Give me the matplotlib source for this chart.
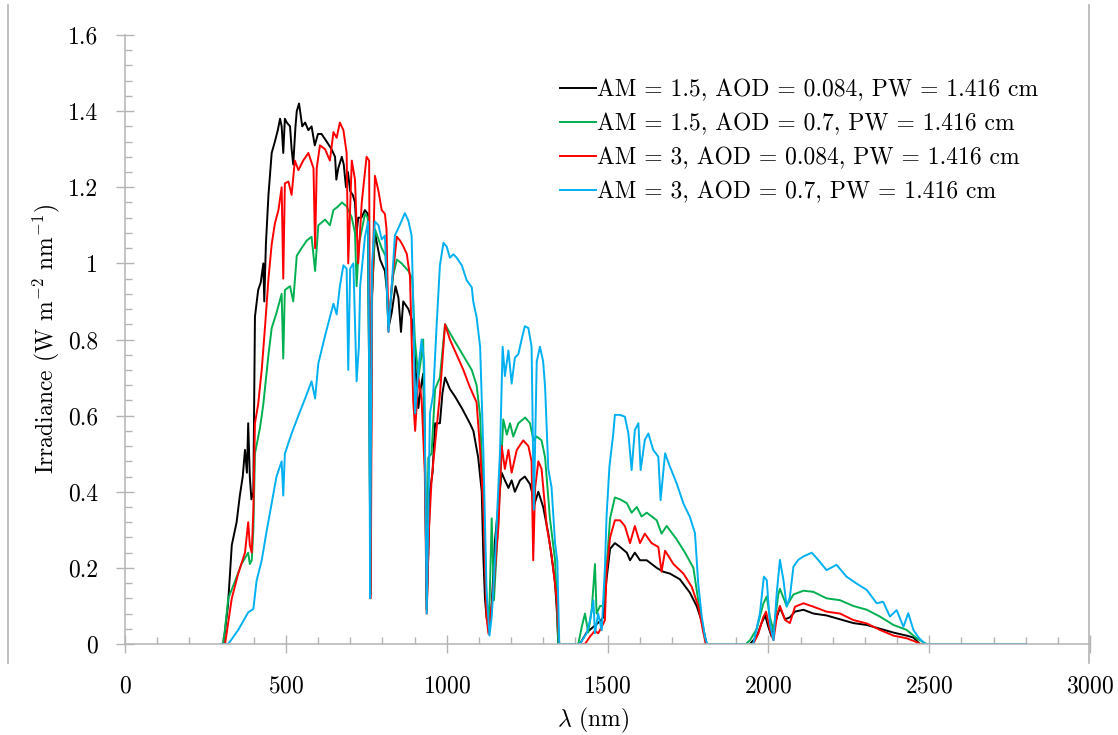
import matplotlib

matplotlib.use("Agg")
import matplotlib.pyplot as plt
from matplotlib.lines import Line2D
from matplotlib.ticker import FuncFormatter, MultipleLocator

# spectral irradiance, W m-2 nm-1
wl_am15_aod0084 = [
    300, 306, 320, 332, 347, 357, 366, 373, 379, 383,
    388, 393, 399, 404, 414, 422, 430, 433, 438, 446,
    456, 466, 475, 482, 487, 492, 497, 503, 513, 518,
    523, 530, 534, 541, 551, 560, 570, 580, 590, 600,
    611, 627, 642, 653, 657, 663, 674, 680, 687, 693,
    700, 708, 715, 720, 725, 735, 746, 755, 760, 763,
    767, 777, 793, 808, 814, 819, 829, 841, 850, 858,
    865, 881, 893, 901, 907, 912, 919, 927, 932, 938,
    943, 948, 956, 964, 979, 987, 995, 1010, 1026, 1047,
    1072, 1083, 1098, 1109, 1114, 1119, 1124, 1130, 1140, 1150,
    1160, 1171, 1181, 1192, 1202, 1212, 1228, 1243, 1259, 1265,
    1270, 1285, 1300, 1316, 1331, 1337, 1343, 1347, 1414, 1435,
    1456, 1477, 1487, 1497, 1508, 1523, 1539, 1560, 1570, 1585,
    1601, 1622, 1653, 1673, 1694, 1725, 1756, 1777, 1793, 1803,
    1808, 1943, 1964, 1979, 1990, 2000, 2010, 2026, 2036, 2052,
    2067, 2083, 2109, 2140, 2181, 2223, 2264, 2306, 2347, 2389,
    2430, 2451, 2471, 2800,
]
irr_am15_aod0084 = [
    0.0, 0.0, 0.10, 0.26, 0.32, 0.39, 0.44, 0.51, 0.45, 0.58,
    0.44, 0.38, 0.40, 0.86, 0.93, 0.95, 1.00, 0.90, 1.05, 1.18,
    1.29, 1.32, 1.35, 1.38, 1.36, 1.29, 1.38, 1.37, 1.36, 1.30,
    1.26, 1.36, 1.40, 1.42, 1.36, 1.37, 1.35, 1.36, 1.31, 1.34,
    1.34, 1.32, 1.30, 1.28, 1.22, 1.25, 1.28, 1.26, 1.20, 1.24,
    1.19, 1.18, 1.16, 1.08, 1.12, 1.12, 1.14, 1.13, 0.60, 0.15,
    0.90, 1.08, 1.01, 0.98, 0.93, 0.83, 0.87, 0.94, 0.91, 0.82,
    0.90, 0.88, 0.85, 0.76, 0.67, 0.62, 0.67, 0.71, 0.55, 0.09,
    0.25, 0.40, 0.45, 0.58, 0.58, 0.66, 0.70, 0.67, 0.65, 0.62,
    0.58, 0.56, 0.49, 0.40, 0.23, 0.12, 0.07, 0.045, 0.10, 0.27,
    0.36, 0.45, 0.43, 0.41, 0.43, 0.40, 0.43, 0.44, 0.42, 0.40,
    0.36, 0.40, 0.36, 0.29, 0.20, 0.16, 0.08, 0.0, 0.0, 0.03,
    0.045, 0.06, 0.07, 0.17, 0.25, 0.265, 0.255, 0.24, 0.22, 0.24,
    0.22, 0.22, 0.20, 0.19, 0.185, 0.17, 0.135, 0.10, 0.06, 0.02,
    0.0, 0.0, 0.02, 0.055, 0.075, 0.045, 0.02, 0.07, 0.095, 0.065,
    0.07, 0.085, 0.09, 0.08, 0.075, 0.065, 0.055, 0.05, 0.04, 0.03,
    0.022, 0.017, 0.0, 0.0,
]

wl_am15_aod07 = [
    300, 306, 321, 342, 362, 383, 388, 394, 399, 404,
    420, 430, 435, 446, 456, 471, 487, 492, 497, 513,
    523, 534, 549, 565, 580, 591, 601, 622, 637, 648,
    663, 674, 689, 705, 715, 720, 727, 746, 755, 760,
    763, 767, 777, 798, 810, 819, 834, 845, 860, 881,
    893, 901, 912, 922, 927, 932, 938, 943, 953, 964,
    979, 995, 1015, 1036, 1057, 1078, 1093, 1104, 1114, 1124,
    1132, 1140, 1147, 1161, 1176, 1187, 1197, 1207, 1223, 1244,
    1259, 1270, 1280, 1295, 1306, 1321, 1337, 1343, 1347, 1409,
    1420, 1430, 1440, 1451, 1461, 1466, 1477, 1487, 1497, 1508,
    1523, 1539, 1560, 1575, 1591, 1606, 1622, 1653, 1668, 1684,
    1715, 1741, 1767, 1782, 1798, 1808, 1930, 1943, 1964, 1984,
    1995, 2005, 2016, 2031, 2036, 2057, 2078, 2109, 2140, 2181,
    2223, 2264, 2306, 2347, 2389, 2430, 2461, 2492, 2800,
]
irr_am15_aod07 = [
    0.0, 0.0, 0.12, 0.165, 0.21, 0.24, 0.21, 0.22, 0.30, 0.50,
    0.57, 0.63, 0.67, 0.76, 0.83, 0.87, 0.92, 0.75, 0.93, 0.94,
    0.90, 1.02, 1.04, 1.06, 1.07, 0.98, 1.10, 1.115, 1.10, 1.14,
    1.15, 1.16, 1.15, 1.12, 1.08, 0.94, 1.05, 1.13, 1.12, 0.60,
    0.13, 0.90, 1.09, 1.04, 1.02, 0.84, 0.97, 1.01, 1.00, 0.98,
    0.96, 0.80, 0.70, 0.76, 0.80, 0.55, 0.09, 0.49, 0.50, 0.67,
    0.70, 0.84, 0.81, 0.78, 0.75, 0.72, 0.68, 0.60, 0.38, 0.115,
    0.063, 0.33, 0.115, 0.33, 0.59, 0.55, 0.58, 0.545, 0.58, 0.595,
    0.58, 0.535, 0.545, 0.535, 0.49, 0.33, 0.22, 0.10, 0.0, 0.0,
    0.045, 0.08, 0.03, 0.09, 0.21, 0.08, 0.10, 0.10, 0.20, 0.33,
    0.385, 0.38, 0.37, 0.345, 0.36, 0.335, 0.345, 0.325, 0.29, 0.31,
    0.275, 0.24, 0.20, 0.115, 0.035, 0.0, 0.0, 0.01, 0.04, 0.105,
    0.125, 0.07, 0.035, 0.13, 0.145, 0.10, 0.13, 0.14, 0.137, 0.12,
    0.115, 0.10, 0.09, 0.072, 0.05, 0.037, 0.015, 0.0, 0.0,
]

wl_am3_aod0084 = [
    300, 311, 332, 352, 373, 383, 388, 394, 399, 404,
    414, 425, 435, 446, 456, 466, 477, 487, 492, 497,
    508, 518, 528, 539, 554, 570, 586, 591, 596, 606,
    622, 637, 648, 658, 668, 679, 689, 694, 705, 715,
    720, 725, 736, 751, 759, 762, 764, 768, 777, 788,
    798, 808, 813, 819, 829, 845, 855, 865, 876, 886,
    896, 902, 912, 922, 932, 938, 945, 953, 969, 979,
    995, 1010, 1031, 1052, 1072, 1093, 1104, 1114, 1124, 1130,
    1145, 1161, 1171, 1181, 1192, 1202, 1218, 1238, 1254, 1264,
    1269, 1275, 1285, 1295, 1311, 1326, 1342, 1350, 1430, 1446,
    1461, 1471, 1482, 1492, 1497, 1508, 1523, 1539, 1554, 1570,
    1585, 1601, 1616, 1637, 1658, 1668, 1679, 1705, 1736, 1762,
    1782, 1798, 1806, 1953, 1969, 1984, 1993, 2005, 2016, 2028,
    2036, 2052, 2067, 2083, 2109, 2140, 2181, 2223, 2264, 2306,
    2347, 2389, 2430, 2461, 2471, 2800,
]
irr_am3_aod0084 = [
    0.0, 0.0, 0.12, 0.185, 0.24, 0.32, 0.26, 0.24, 0.35, 0.58,
    0.63, 0.72, 0.83, 0.96, 1.05, 1.105, 1.14, 1.20, 0.96, 1.21,
    1.215, 1.18, 1.27, 1.245, 1.27, 1.29, 1.25, 1.04, 1.25, 1.31,
    1.30, 1.27, 1.345, 1.33, 1.37, 1.35, 1.29, 1.00, 1.27, 1.22,
    1.10, 1.00, 1.16, 1.28, 1.27, 0.60, 0.12, 0.90, 1.23, 1.19,
    1.14, 1.13, 1.09, 0.82, 0.94, 1.07, 1.06, 1.045, 1.025, 0.965,
    0.64, 0.56, 0.70, 0.645, 0.45, 0.08, 0.30, 0.43, 0.57, 0.655,
    0.84, 0.80, 0.76, 0.72, 0.675, 0.635, 0.51, 0.36, 0.07, 0.027,
    0.14, 0.31, 0.52, 0.46, 0.51, 0.45, 0.51, 0.535, 0.52, 0.48,
    0.22, 0.41, 0.48, 0.46, 0.31, 0.235, 0.12, 0.0, 0.0, 0.02,
    0.035, 0.028, 0.045, 0.063, 0.19, 0.28, 0.325, 0.325, 0.31, 0.265,
    0.31, 0.265, 0.29, 0.265, 0.255, 0.19, 0.245, 0.21, 0.185, 0.15,
    0.10, 0.03, 0.0, 0.0, 0.028, 0.07, 0.085, 0.037, 0.01, 0.08,
    0.10, 0.063, 0.055, 0.098, 0.107, 0.098, 0.085, 0.08, 0.063, 0.054,
    0.037, 0.022, 0.015, 0.005, 0.0, 0.0,
]

wl_am3_aod07 = [
    300, 321, 352, 383, 399, 409, 425, 440, 456, 471,
    487, 492, 497, 518, 539, 560, 580, 591, 601, 622,
    648, 658, 668, 679, 689, 694, 700, 710, 720, 727,
    731, 746, 756, 760, 762, 765, 768, 777, 788, 798,
    808, 819, 829, 839, 850, 860, 870, 881, 891, 896,
    902, 912, 922, 930, 938, 948, 958, 969, 979, 990,
    1000, 1010, 1021, 1031, 1047, 1062, 1078, 1083, 1093, 1104,
    1114, 1124, 1133, 1140, 1150, 1166, 1174, 1181, 1192, 1202,
    1212, 1223, 1233, 1243, 1254, 1264, 1271, 1280, 1290, 1300,
    1306, 1316, 1326, 1337, 1344, 1350, 1414, 1435, 1446, 1456,
    1461, 1471, 1482, 1492, 1497, 1506, 1518, 1523, 1539, 1554,
    1565, 1575, 1585, 1596, 1603, 1616, 1627, 1642, 1658, 1665,
    1679, 1694, 1715, 1736, 1756, 1772, 1782, 1793, 1803, 1810,
    1953, 1974, 1986, 1995, 2005, 2016, 2026, 2036, 2047, 2057,
    2067, 2078, 2093, 2109, 2135, 2155, 2181, 2212, 2243, 2274,
    2306, 2337, 2357, 2378, 2399, 2420, 2435, 2451, 2466, 2487,
    2800,
]
irr_am3_aod07 = [
    0.0, 0.0, 0.037, 0.083, 0.092, 0.166, 0.22, 0.295, 0.37, 0.44,
    0.48, 0.39, 0.50, 0.553, 0.60, 0.645, 0.69, 0.645, 0.737, 0.81,
    0.894, 0.866, 0.94, 0.995, 0.986, 0.72, 0.986, 1.00, 0.69, 0.78,
    0.94, 1.07, 1.11, 0.60, 0.12, 0.60, 1.00, 1.11, 1.10, 1.063,
    1.073, 0.82, 0.937, 1.073, 1.093, 1.112, 1.132, 1.112, 1.073, 0.90,
    0.606, 0.723, 0.80, 0.742, 0.08, 0.606, 0.655, 0.84, 0.995, 1.054,
    1.044, 1.015, 1.024, 1.015, 0.995, 0.956, 0.937, 0.898, 0.859, 0.781,
    0.509, 0.139, 0.022, 0.071, 0.217, 0.509, 0.781, 0.704, 0.771, 0.684,
    0.752, 0.762, 0.80, 0.835, 0.83, 0.781, 0.353, 0.742, 0.781, 0.742,
    0.674, 0.46, 0.412, 0.265, 0.217, 0.0, 0.0, 0.028, 0.063, 0.115,
    0.028, 0.08, 0.036, 0.203, 0.334, 0.466, 0.553, 0.602, 0.602, 0.597,
    0.553, 0.457, 0.562, 0.58, 0.457, 0.536, 0.553, 0.51, 0.492, 0.378,
    0.501, 0.466, 0.422, 0.369, 0.334, 0.291, 0.159, 0.072, 0.019, 0.0,
    0.0, 0.081, 0.177, 0.168, 0.054, 0.01, 0.133, 0.221, 0.168, 0.098,
    0.124, 0.203, 0.221, 0.23, 0.24, 0.221, 0.194, 0.208, 0.177, 0.159,
    0.142, 0.107, 0.111, 0.072, 0.089, 0.045, 0.081, 0.037, 0.018, 0.0,
    0.0,
]

series = [
    (wl_am15_aod0084, irr_am15_aod0084, "#000000", "AM = 1.5, AOD = 0.084, PW = 1.416 cm"),
    (wl_am15_aod07, irr_am15_aod07, "#00b050", "AM = 1.5, AOD = 0.7, PW = 1.416 cm"),
    (wl_am3_aod0084, irr_am3_aod0084, "#ff0000", "AM = 3, AOD = 0.084, PW = 1.416 cm"),
    (wl_am3_aod07, irr_am3_aod07, "#00b0f0", "AM = 3, AOD = 0.7, PW = 1.416 cm"),
]

plt.rcParams["font.family"] = "cmr10"
plt.rcParams["mathtext.fontset"] = "cm"
plt.rcParams["axes.formatter.use_mathtext"] = True
FS = 17
GREY = "#b4b4b4"

fig = plt.figure(figsize=(11.18, 7.35), dpi=100)
ax = fig.add_axes([125 / 1118, 1 - 644 / 735, 965 / 1118, 609 / 735])

for x, y, c, lab in series:
    ax.plot(x, y, color=c, lw=1.4, label=lab)

ax.set_xlim(0, 3000)
ax.set_ylim(0, 1.6)
ax.xaxis.set_major_locator(MultipleLocator(500))
ax.xaxis.set_minor_locator(MultipleLocator(100))
ax.yaxis.set_major_locator(MultipleLocator(0.2))
ax.yaxis.set_minor_locator(MultipleLocator(0.04))
ax.yaxis.set_major_formatter(FuncFormatter(lambda v, p: f"{v:.1f}".rstrip("0").rstrip(".") if v else "0"))

for s in ["top", "right"]:
    ax.spines[s].set_visible(False)
for s in ["left", "bottom"]:
    ax.spines[s].set_color(GREY)
    ax.spines[s].set_linewidth(1.1)

ax.tick_params(which="major", direction="inout", length=13, width=1.0, color=GREY, labelsize=FS)
ax.tick_params(which="minor", direction="in", length=5, width=1.0, color=GREY)
ax.tick_params(axis="y", which="major", pad=13)
ax.tick_params(axis="x", which="major", pad=16)

ax.set_xlabel(r"$\lambda$ (nm)", fontsize=FS)
ax.set_ylabel(r"Irradiance (W m$^{\mathregular{-2}}$ nm$^{\mathregular{-1}}$)", fontsize=FS)
ax.xaxis.set_label_coords(0.485, -0.102)
ax.yaxis.set_label_coords(-0.065, 0.5)

ax.legend(loc="upper left", bbox_to_anchor=(0.451, 0.928), frameon=False, fontsize=FS,
          handlelength=1.5, handletextpad=0.05, labelspacing=0.5, borderpad=0, borderaxespad=0)

# chart-area border lines left and right
fig.add_artist(Line2D([8 / 1118, 8 / 1118], [1 - 663 / 735, 1 - 5 / 735], color=GREY, lw=1.2))
fig.add_artist(Line2D([1089 / 1118, 1089 / 1118], [1 - 663 / 735, 1 - 5 / 735], color=GREY, lw=1.2))

fig.savefig("out.png", dpi=100)
